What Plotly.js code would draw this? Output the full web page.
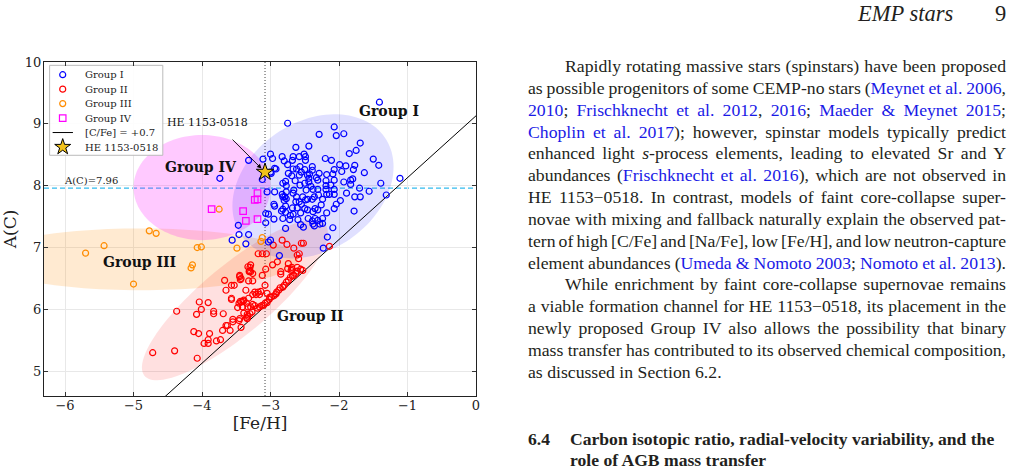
<!DOCTYPE html>
<html><head><meta charset="utf-8">
<script src="https://cdn.plot.ly/plotly-3.0.1.min.js"></script>
<style>
html,body{margin:0;padding:0;background:#fff;width:1013px;height:473px;overflow:hidden;}
#chart{position:absolute;left:0;top:0;width:1013px;height:473px;}
.txt{position:absolute;font-family:"Liberation Serif","Times New Roman",serif;color:#231f20;}
#hdr{left:858px;top:3px;font-size:22.5px;line-height:22.5px;font-style:italic;white-space:nowrap;}
#pg{left:995px;top:3px;font-size:22.5px;line-height:22.5px;white-space:nowrap;}
#body{left:528px;top:56px;width:478px;font-size:17.7px;line-height:21.85px;}
.ln{white-space:nowrap;text-align:justify;text-align-last:justify;word-spacing:-2px;}
.ind{padding-left:37px;}
.last{text-align:left;text-align-last:left;word-spacing:0;}
#head{left:528px;top:428.5px;width:480px;font-size:17.6px;line-height:21.8px;font-weight:bold;}
#head .num{position:absolute;left:0;}
#head .tt{padding-left:42px;white-space:nowrap;}
a{color:#1a1ae6;text-decoration:none;}
</style></head>
<body>
<div id="chart"></div>
<div class="txt" id="hdr">EMP stars</div>
<div class="txt" id="pg">9</div>
<div class="txt" id="body">
<div class="ln ind">Rapidly rotating massive stars (spinstars) have been proposed</div>
<div class="ln">as possible progenitors of some CEMP-no stars (<a>Meynet et al. 2006</a>,</div>
<div class="ln"><a>2010</a>; <a>Frischknecht et al. 2012</a>, <a>2016</a>; <a>Maeder &amp; Meynet 2015</a>;</div>
<div class="ln"><a>Choplin et al. 2017</a>); however, spinstar models typically predict</div>
<div class="ln">enhanced light <i>s</i>-process elements, leading to elevated Sr and Y</div>
<div class="ln">abundances (<a>Frischknecht et al. 2016</a>), which are not observed in</div>
<div class="ln">HE 1153&#8722;0518. In contrast, models of faint core-collapse super-</div>
<div class="ln">novae with mixing and fallback naturally explain the observed pat-</div>
<div class="ln">tern of high [C/Fe] and [Na/Fe], low [Fe/H], and low neutron-capture</div>
<div class="ln">element abundances (<a>Umeda &amp; Nomoto 2003</a>; <a>Nomoto et al. 2013</a>).</div>
<div class="ln ind">While enrichment by faint core-collapse supernovae remains</div>
<div class="ln">a viable formation channel for HE 1153&#8722;0518, its placement in the</div>
<div class="ln">newly proposed Group IV also allows the possibility that binary</div>
<div class="ln">mass transfer has contributed to its observed chemical composition,</div>
<div class="ln last">as discussed in Section 6.2.</div>
</div>
<div class="txt" id="head">
<div><span class="num">6.4</span><span class="tt">Carbon isotopic ratio, radial-velocity variability, and the</span></div>
<div><span class="tt">role of AGB mass transfer</span></div>
</div>
<script>
// ---------------- data ----------------
const groupI_feh = [-1.41,-2.75,-2.07,-2.04,-1.93,-2.29,-1.69,-1.75,-1.85,-2.44,-2.63,-1.50,-1.42,-1.11,-1.31,-1.39,-1.56,-1.70,-1.69,-1.77,-1.78,-1.89,-1.83,-1.80,-1.79,-1.90,-1.77,-1.63,-1.96,-1.99,-2.11,-2.20,-2.07,-2.09,-2.18,-2.19,-2.07,-2.12,-2.19,-2.31,-2.29,-2.39,-2.39,-2.49,-2.51,-2.49,-2.58,-2.67,-2.68,-2.83,-2.80,-2.97,-3.00,-3.11,-2.94,-2.92,-2.99,-2.75,-2.67,-2.62,-2.57,-2.50,-2.74,-2.69,-2.58,-2.55,-2.46,-2.43,-2.44,-2.33,-2.78,-2.82,-2.77,-2.64,-2.57,-2.50,-2.44,-2.41,-2.31,-2.38,-2.48,-2.66,-2.77,-2.83,-2.82,-2.79,-2.67,-2.62,-2.53,-2.58,-2.55,-2.46,-2.39,-2.30,-2.18,-2.19,-2.14,-2.07,-2.07,-1.98,-2.04,-2.07,-2.18,-2.31,-2.38,-2.46,-2.56,-2.67,-2.78,-2.78,-2.95,-3.03,-3.07,-3.07,-2.95,-2.72,-2.56,-2.38,-2.28,-2.24,-2.09,-2.31,-1.93,-1.83,-3.05,-3.12,-3.00,-3.47,-3.32,-2.94,-2.77,-2.80,-2.63,-2.49,-2.36,-2.24,-2.94,-2.82,-2.84,-2.68,-2.61,-2.50,-2.35,-2.26,-2.71,-2.82,-2.60,-2.45,-2.39,-2.35,-2.24,-2.78,-2.52,-2.36,-3.56,-3.46,-3.32,-3.36,-2.87,-2.23,-2.17,-3.00,-3.03,-3.74];
const groupI_ac  = [9.35,9.01,8.95,8.81,8.84,8.83,8.69,8.57,8.52,8.64,8.62,8.43,8.33,8.12,7.85,8.04,7.91,7.96,7.82,7.82,7.59,7.88,8.02,8.11,8.26,8.32,8.33,8.21,8.23,8.34,8.41,8.44,8.26,8.19,8.18,8.08,8.09,8.01,8.00,8.09,8.20,8.31,8.25,8.47,8.51,8.41,8.47,8.47,8.41,8.47,8.40,8.44,8.51,8.43,8.28,8.27,8.20,8.34,8.27,8.27,8.31,8.26,8.20,8.16,8.17,8.22,8.17,8.19,8.12,8.13,8.07,8.04,8.00,8.08,8.01,8.04,8.06,7.99,7.94,7.94,7.93,7.93,7.90,7.86,7.82,7.82,7.88,7.82,7.82,7.74,7.70,7.78,7.78,7.85,7.86,7.94,7.86,7.86,7.94,7.76,7.70,7.63,7.56,7.61,7.58,7.61,7.56,7.54,7.57,7.67,7.70,7.54,7.55,7.40,7.46,7.45,7.37,7.38,7.38,7.39,7.32,7.44,8.06,8.09,7.90,8.10,8.22,7.36,8.41,7.90,7.79,7.76,7.74,7.77,7.82,7.78,7.67,7.62,7.59,7.64,7.64,7.63,7.63,7.69,7.52,7.47,7.45,7.47,7.43,7.47,7.47,7.31,7.33,7.35,7.12,7.21,7.21,7.06,6.87,6.99,7.17,7.12,7.09,8.12];

const groupII_feh = [-4.72,-4.40,-4.37,-4.07,-4.12,-4.05,-4.08,-4.04,-4.01,-3.91,-3.89,-3.97,-3.91,-3.91,-3.83,-3.83,-3.79,-3.73,-3.69,-3.70,-3.65,-3.63,-3.59,-3.55,-3.46,-3.43,-3.67,-3.65,-3.53,-3.57,-3.48,-3.46,-3.44,-3.40,-3.41,-3.35,-3.34,-3.33,-3.35,-3.45,-3.43,-3.33,-3.31,-3.32,-3.36,-3.55,-3.45,-3.32,-3.26,-3.23,-3.21,-3.18,-3.16,-3.14,-3.42,-3.39,-3.33,-3.29,-3.26,-3.23,-3.19,-3.16,-3.13,-3.10,-3.08,-3.05,-3.02,-2.99,-2.95,-2.92,-2.91,-2.88,-2.86,-2.82,-2.80,-2.77,-2.74,-2.71,-2.68,-2.66,-2.63,-2.61,-2.56,-2.53,-3.27,-3.30,-3.39,-3.08,-3.07,-3.29,-2.85,-2.85,-2.75,-2.69,-3.05,-3.01,-3.34,-3.18,-3.12,-3.06,-2.83,-2.76,-2.55,-2.52,-2.66,-2.61,-2.59,-2.74,-2.70,-2.69,-2.61,-3.12,-3.29,-3.30,-3.31,-3.45,-3.44,-3.26,-3.26,-3.57,-3.57,-2.14,-2.96,-2.90,-2.97,-2.58];
const groupII_ac  = [5.30,5.33,5.97,5.21,5.64,5.61,5.92,6.12,6.00,6.11,5.61,5.45,5.45,5.51,5.93,5.97,5.49,5.51,5.93,5.66,5.74,5.74,5.66,5.80,5.82,5.71,6.47,6.31,6.39,6.18,6.03,6.10,6.13,6.13,6.04,6.10,5.92,5.89,5.87,6.55,6.50,6.69,6.62,6.46,6.31,5.84,5.85,6.18,6.24,6.28,6.24,6.28,6.24,6.29,6.12,6.15,6.04,6.04,6.08,6.06,6.02,6.04,6.06,6.07,6.10,6.11,6.16,6.20,6.22,6.25,6.28,6.31,6.35,6.36,6.39,6.44,6.47,6.52,6.54,6.55,6.58,6.62,6.65,6.63,5.96,5.93,5.94,6.39,6.65,6.61,6.61,6.57,6.66,6.65,6.26,6.20,5.85,6.90,6.90,6.90,7.12,7.05,7.07,7.07,6.99,6.88,6.82,6.74,6.63,6.68,6.68,6.55,6.72,6.68,6.61,6.53,6.48,6.46,6.58,6.39,6.16,7.02,7.04,6.77,6.72,6.90];

const groupIII_feh = [-5.70,-5.43,-4.77,-4.67,-5.00,-4.07,-4.01,-4.14,-4.16,-3.49,-3.75,-3.12,-3.14];
const groupIII_ac  = [6.91,7.03,7.27,7.23,6.41,7.00,7.01,6.72,6.67,6.99,7.62,7.16,7.10];

const groupIV_feh = [-3.86,-3.40,-3.36,-3.19,-3.23,-3.19,-3.19];
const groupIV_ac  = [7.62,7.59,7.43,7.88,7.77,7.78,7.46];

const starName = 'HE 1153-0518';
const starFeH = -3.08;
const starAC = 8.22;
const acReference = 7.96;
const solarAC = 8.43;
const cfeLimit = 0.7;

const groupNames = ['Group I','Group II','Group III','Group IV'];
const lineLabel = '[C/Fe] = +0.7';
const xTickVals = [-6,-5,-4,-3,-2,-1,0];
const yTickVals = [5,6,7,8,9,10];

// ---------------- styles / geometry ----------------
const FONT = 'DejaVu Serif, serif';
const xr = [-6.307, 0];
const yr = [4.6, 10];
const groupStyle = [
  {color:'#0000ff', symbol:'circle-open', size:6},
  {color:'#ff0000', symbol:'circle-open', size:6},
  {color:'#ff8c00', symbol:'circle-open', size:6},
  {color:'#ff00ff', symbol:'square-open', size:6.5}
];
const ellipses = [
  {cx:-4.9, cy:6.81, a:2.3, b:0.5, ang:0, fill:'rgba(255,140,0,0.18)'},
  {cx:-4.0, cy:7.97, a:1.0, b:0.85, ang:0, fill:'rgba(255,0,255,0.21)'},
  {cx:-3.52, cy:6.15, a:1.8, b:0.53, ang:43.4, fill:'rgba(255,0,0,0.12)'},
  {cx:-2.38, cy:7.99, a:1.32, b:1.0, ang:44, fill:'rgba(0,0,255,0.12)'}
];
const groupLabelPos = [[-1.27,9.20],[-2.42,5.89],[-4.92,6.77],[-4.02,8.31]];

function ellipsePath(e){
  const n = 120, th = e.ang*Math.PI/180;
  let s = '';
  for(let i=0;i<=n;i++){
    const t = 2*Math.PI*i/n;
    const x = e.cx + e.a*Math.cos(t)*Math.cos(th) - e.b*Math.sin(t)*Math.sin(th);
    const y = e.cy + e.a*Math.cos(t)*Math.sin(th) + e.b*Math.sin(t)*Math.cos(th);
    s += (i? 'L':'M') + x.toFixed(4) + ',' + y.toFixed(4);
  }
  return s + 'Z';
}
const fx = f => xr[0] + f*(xr[1]-xr[0]);
const fy = f => yr[0] + f*(yr[1]-yr[0]);

const traces = [];
// [C/Fe] = +0.7 line
const lineX = [xr[0], xr[1]];
traces.push({x: lineX, y: lineX.map(v => v + solarAC + cfeLimit), mode:'lines',
  line:{color:'#000', width:1}, showlegend:false, hoverinfo:'skip'});

const groupsX = [groupI_feh, groupII_feh, groupIII_feh, groupIV_feh];
const groupsY = [groupI_ac, groupII_ac, groupIII_ac, groupIV_ac];
[1,2,0,3].forEach(i => {
  traces.push({x: groupsX[i], y: groupsY[i], mode:'markers', name: groupNames[i], showlegend:false,
    marker:{symbol: groupStyle[i].symbol, size: groupStyle[i].size, color: groupStyle[i].color,
      line:{color: groupStyle[i].color, width:1.2}}});
});
traces.push({x:[starFeH], y:[starAC], mode:'markers', name: starName, showlegend:false,
  marker:{symbol:'star', size:13, color:'#f2c21b', line:{color:'#000', width:1}}});

// custom legend (compact like the original)
const legX0 = 0.013, legX1 = 0.275, legY0 = 0.7207, legY1 = 0.990;
const legSymX = 0.0433, legTxtX = 0.0896, legTop = 0.962, legStep = 0.0433;
const legendLabels = groupNames.concat([lineLabel, starName]);
groupNames.forEach((g,i) => {
  traces.push({x:[fx(legSymX)], y:[fy(legTop - i*legStep)], mode:'markers', showlegend:false, hoverinfo:'skip',
    marker:{symbol: groupStyle[i].symbol, size: groupStyle[i].size, color: groupStyle[i].color,
      line:{color: groupStyle[i].color, width:1.2}}});
});
traces.push({x:[fx(0.020), fx(0.067)], y:[fy(legTop-4*legStep), fy(legTop-4*legStep)], mode:'lines',
  line:{color:'#000', width:1}, showlegend:false, hoverinfo:'skip'});
traces.push({x:[fx(legSymX)], y:[fy(legTop-5*legStep)], mode:'markers', showlegend:false, hoverinfo:'skip',
  marker:{symbol:'star', size:12, color:'#f2c21b', line:{color:'#000', width:1}}});

const shapes = ellipses.map(e => ({type:'path', path: ellipsePath(e), xref:'x', yref:'y',
  fillcolor: e.fill, line:{width:0}, layer:'between'}));
shapes.push({type:'line', xref:'paper', x0:0, x1:1, yref:'y', y0:acReference, y1:acReference,
  line:{color:'#33bbee', width:1.3, dash:'5px,3px'}, layer:'between'});
shapes.push({type:'line', xref:'x', x0:starFeH, x1:starFeH, yref:'paper', y0:0, y1:1,
  line:{color:'#444', width:1, dash:'1px,2px'}, layer:'between'});
shapes.push({type:'rect', xref:'x', yref:'y', x0:fx(legX0), x1:fx(legX1), y0:fy(legY0), y1:fy(legY1),
  fillcolor:'rgba(255,255,255,0.9)', line:{color:'#bbbbbb', width:1}, layer:'between'});

const annotations = [];
groupNames.forEach((g,i) => annotations.push({x: groupLabelPos[i][0], y: groupLabelPos[i][1], xref:'x', yref:'y',
  text:'<b>'+g+'</b>', showarrow:false, font:{family:FONT, size:14, color:'#111'}}));
annotations.push({x:-3.92, y:9.03, xref:'x', yref:'y', text: starName, showarrow:false,
  font:{family:FONT, size:11, color:'#111'}});
annotations.push({x: starFeH, y: starAC, xref:'x', yref:'y', ax:-34, ay:-34,
  text:'', showarrow:true, arrowhead:2, arrowsize:1, arrowwidth:0.9, arrowcolor:'#000', standoff:5});
annotations.push({x:-6.04, y:8.09, xref:'x', yref:'y', text:'A(C)=' + acReference.toFixed(2), showarrow:false,
  xanchor:'left', font:{family:FONT, size:10, color:'#222'}});
legendLabels.forEach((t,i) => annotations.push({x: legTxtX, y: legTop - i*legStep, xref:'paper', yref:'paper',
  text: t, showarrow:false, xanchor:'left', yanchor:'middle', font:{family:FONT, size:10, color:'#222'}}));

const axisCommon = {showline:true, linecolor:'#222', linewidth:1.2, mirror:'allticks', ticks:'inside',
  ticklen:4, tickwidth:1, tickcolor:'#333', showgrid:true, gridcolor:'#e8e8e8', gridwidth:1,
  zeroline:false, tickfont:{family:FONT, size:13, color:'#222'}};

const layout = {
  width:1013, height:473, margin:{l:44, r:537, t:62, b:77},
  paper_bgcolor:'rgba(0,0,0,0)', plot_bgcolor:'#fff', showlegend:false,
  xaxis: Object.assign({}, axisCommon, {range: xr, tickvals: xTickVals, ticklabelstandoff:-3,
    title:{text:'[Fe/H]', font:{family:FONT, size:17, color:'#222'}, standoff:0}}),
  yaxis: Object.assign({}, axisCommon, {range: yr, tickvals: yTickVals, ticklabelstandoff:-1,
    title:{text:'A(C)', font:{family:FONT, size:17, color:'#222'}, standoff:6}}),
  shapes: shapes, annotations: annotations
};
Plotly.newPlot('chart', traces, layout, {staticPlot:true, displayModeBar:false});
</script>
</body></html>
